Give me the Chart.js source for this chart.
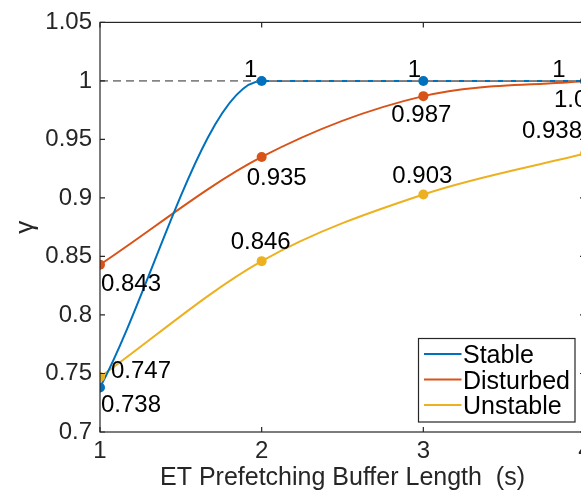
<!DOCTYPE html>
<html>
<head>
<meta charset="utf-8">
<script src="https://cdn.jsdelivr.net/npm/chart.js@4/dist/chart.umd.min.js"></script>
<style>
html,body{margin:0;padding:0;background:#fff;overflow:hidden;}
#wrap{width:600px;height:492px;}
</style>
</head>
<body>
<div id="wrap"><canvas id="c" width="600" height="492"></canvas></div>
<script>
// ---- data ----
const bufferLengths = [1, 2, 3, 4];
const stable = [0.738, 1, 1, 1];
const disturbed = [0.843, 0.935, 0.987, 1.000];
const unstable = [0.747, 0.846, 0.903, 0.938];
const stableLabels = ['0.738', '1', '1', '1'];
const disturbedLabels = ['0.843', '0.935', '0.987', '1.000'];
const unstableLabels = ['0.747', '0.846', '0.903', '0.938'];
const seriesNames = ['Stable', 'Disturbed', 'Unstable'];
const xTicks = [1, 2, 3, 4];
const xTickLabels = ['1', '2', '3', '4'];
const yTicks = [0.7, 0.75, 0.8, 0.85, 0.9, 0.95, 1, 1.05];
const yTickLabels = ['0.7', '0.75', '0.8', '0.85', '0.9', '0.95', '1', '1.05'];
const referenceLevel = 1;
const xTitle = 'ET Prefetching Buffer Length  (s)';
const yTitle = 'γ';

// ---- styles ----
const colors = ['#0072BD', '#D95319', '#EDB120'];
const FONT = '"Liberation Sans", Arial, Helvetica, sans-serif';
const AXIS = '#262626';
// value-label offsets (px) from each marker: [dx, dy]
const labelOffsets = [
  [[31, 18], [-11, -11], [-9, -11], [-26, -11]],
  [[31, 20], [15, 21], [-2, 19], [-1, 19]],
  [[41, -6], [-1, -19], [-1, -18], [-33, -22]]
];

const seriesValues = [stable, disturbed, unstable];
const seriesLabels = [stableLabels, disturbedLabels, unstableLabels];
const toPts = vals => bufferLengths.map((x, i) => ({x: x, y: vals[i]}));

const datasets = [];
// markers (top)
seriesValues.forEach((vals, k) => {
  datasets.push({
    label: seriesNames[k] + ' markers',
    data: toPts(vals),
    showLine: false,
    pointRadius: 5,
    pointHoverRadius: 5,
    pointBackgroundColor: colors[k],
    pointBorderColor: colors[k],
    pointBorderWidth: 0,
    order: 0
  });
});
// dashed reference line
datasets.push({
  label: 'reference',
  data: bufferLengths.map(x => ({x: x, y: referenceLevel})),
  borderColor: '#858585',
  borderWidth: 1.6,
  borderDash: [8, 5],
  pointRadius: 0,
  fill: false,
  order: 1
});
// curves
seriesValues.forEach((vals, k) => {
  datasets.push({
    label: seriesNames[k],
    data: toPts(vals),
    borderColor: colors[k],
    borderWidth: 2,
    pointRadius: 0,
    cubicInterpolationMode: 'monotone',
    fill: false,
    order: 2 + k
  });
});

const decorPlugin = {
  id: 'decor',
  afterDatasetsDraw(chart) {
    const ctx = chart.ctx;
    const xs = chart.scales.x, ys = chart.scales.y;
    ctx.save();
    ctx.font = '24px ' + FONT;
    ctx.fillStyle = '#000';
    ctx.textAlign = 'center';
    ctx.textBaseline = 'middle';
    seriesValues.forEach((vals, k) => {
      vals.forEach((v, i) => {
        const px = xs.getPixelForValue(bufferLengths[i]);
        const py = ys.getPixelForValue(v);
        const off = labelOffsets[k][i];
        ctx.fillText(seriesLabels[k][i], px + off[0], py + off[1]);
      });
    });
    ctx.restore();
  },
  afterDraw(chart) {
    const ctx = chart.ctx;
    const a = chart.chartArea;
    const xs = chart.scales.x, ys = chart.scales.y;
    ctx.save();
    // box
    ctx.strokeStyle = AXIS;
    ctx.lineWidth = 1.2;
    ctx.strokeRect(a.left, a.top, a.right - a.left, a.bottom - a.top);
    // inward ticks
    const tl = 5;
    ctx.beginPath();
    xTicks.forEach(v => {
      const p = xs.getPixelForValue(v);
      ctx.moveTo(p, a.bottom); ctx.lineTo(p, a.bottom - tl);
      ctx.moveTo(p, a.top); ctx.lineTo(p, a.top + tl);
    });
    yTicks.forEach(v => {
      const p = ys.getPixelForValue(v);
      ctx.moveTo(a.left, p); ctx.lineTo(a.left + tl, p);
      ctx.moveTo(a.right, p); ctx.lineTo(a.right - tl, p);
    });
    ctx.stroke();
    // axis titles
    ctx.fillStyle = AXIS;
    ctx.font = '25px ' + FONT;
    ctx.textAlign = 'center';
    ctx.textBaseline = 'alphabetic';
    ctx.fillText(xTitle, (a.left + a.right) / 2, 485);
    ctx.save();
    ctx.translate(26, (a.top + a.bottom) / 2);
    ctx.rotate(-Math.PI / 2);
    ctx.font = '26px ' + FONT;
    ctx.textBaseline = 'middle';
    ctx.fillText(yTitle, 0, 0);
    ctx.restore();
    // legend
    const lx = 418.5, ly = 338.5, lw = 156.5, lh = 83.5;
    ctx.fillStyle = '#fff';
    ctx.fillRect(lx, ly, lw, lh);
    ctx.strokeStyle = AXIS;
    ctx.lineWidth = 1.2;
    ctx.strokeRect(lx, ly, lw, lh);
    const rows = [354, 379.5, 405];
    ctx.font = '25px ' + FONT;
    ctx.textAlign = 'left';
    ctx.textBaseline = 'alphabetic';
    seriesNames.forEach((name, k) => {
      ctx.strokeStyle = colors[k];
      ctx.lineWidth = 2;
      ctx.beginPath();
      ctx.moveTo(424, rows[k]);
      ctx.lineTo(461.5, rows[k]);
      ctx.stroke();
      ctx.fillStyle = '#000';
      ctx.fillText(name, 463, rows[k] + 9);
    });
    ctx.restore();
  }
};

new Chart(document.getElementById('c'), {
  type: 'line',
  data: {datasets: datasets},
  options: {
    responsive: false,
    animation: false,
    devicePixelRatio: 1,
    layout: {padding: {left: 0, top: 20, right: 15, bottom: 0}},
    plugins: {legend: {display: false}, tooltip: {enabled: false}},
    events: [],
    scales: {
      x: {
        type: 'linear',
        min: 1, max: 4,
        afterBuildTicks: s => { s.ticks = xTicks.map(v => ({value: v})); },
        afterFit: s => { s.height = 60; },
        grid: {display: false, drawTicks: false},
        border: {display: false},
        ticks: {
          autoSkip: false, maxRotation: 0,
          padding: 5,
          color: AXIS,
          font: {family: FONT, size: 24},
          callback: (v, i) => xTickLabels[i]
        }
      },
      y: {
        type: 'linear',
        min: 0.7, max: 1.05,
        afterBuildTicks: s => { s.ticks = yTicks.map(v => ({value: v})); },
        afterFit: s => { s.width = 100; },
        grid: {display: false, drawTicks: false},
        border: {display: false},
        ticks: {
          autoSkip: false,
          padding: 8,
          color: AXIS,
          font: {family: FONT, size: 24},
          callback: (v, i) => yTickLabels[i]
        }
      }
    }
  },
  plugins: [decorPlugin]
});
</script>
</body>
</html>
